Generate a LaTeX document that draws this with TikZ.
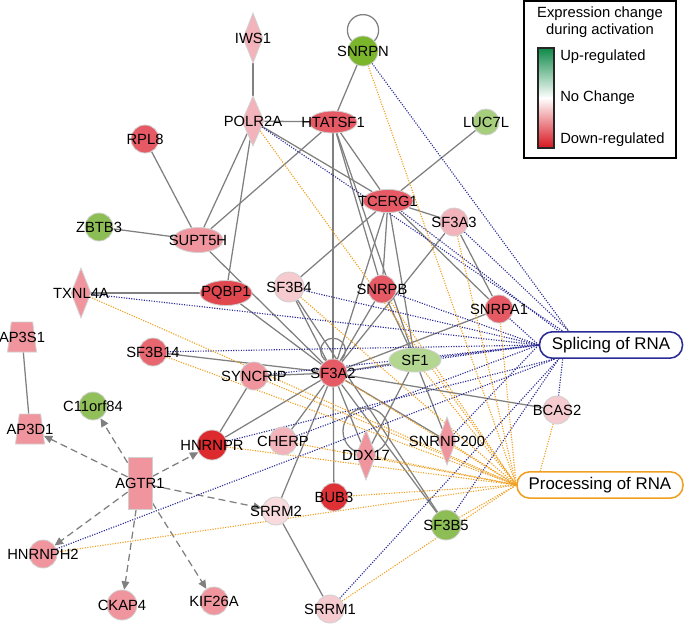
\documentclass[tikz,border=0pt]{standalone}
\usepackage{fontspec}
\setmainfont{Liberation Sans}
\usepackage{xcolor}
\usetikzlibrary{arrows.meta,shapes.geometric}
\pgfdeclarelayer{bg}
\pgfsetlayers{bg,main}

\definecolor{edgegray}{HTML}{808080}
\definecolor{splblue}{HTML}{2A2A96}
\definecolor{procorange}{HTML}{F0A020}
\definecolor{downA}{HTML}{DC2A2E}
\definecolor{downB}{HTML}{E55A64}
\definecolor{downC}{HTML}{F0959D}
\definecolor{downD}{HTML}{F2B3BA}
\definecolor{downE}{HTML}{F6CBCF}
\definecolor{upA}{HTML}{7AB52B}
\definecolor{upB}{HTML}{8DBD55}
\definecolor{upC}{HTML}{A6CE7C}
\definecolor{upD}{HTML}{B3D690}
\definecolor{legup}{HTML}{0E8A48}
\definecolor{legdown}{HTML}{D8141E}

\begin{document}
\begin{tikzpicture}[
  x=0.025cm,y=-0.025cm,
  every label/.style={font=\fontsize{10.5}{12}\selectfont,inner sep=0pt,text=black},
  gene/.style={draw=black!18,line width=0.6pt,inner sep=0pt,label={center:#1}},
  circ/.style={circle,gene=#1,minimum size=0.7cm},
  ell/.style={ellipse,gene=#1,minimum width=1.25cm,minimum height=0.6cm},
  dia/.style={diamond,gene=#1,minimum width=0.5cm,minimum height=1.25cm},
  trap/.style={trapezium,gene=#1,inner sep=1pt,trapezium angle=80,trapezium stretches=true,minimum width=0.725cm,minimum height=0.75cm},
  rbox/.style={rectangle,gene=#1,minimum width=0.6cm,minimum height=1.3cm},
  fnbox/.style={rectangle,rounded corners=0.32cm,draw=#1,line width=1.1pt,fill=white,font=\fontsize{12}{14}\selectfont,minimum height=0.66cm,inner sep=3pt},
  legtext/.style={font=\fontsize{10.5}{12.5}\selectfont,inner sep=0pt},
  rel/.style={edgegray,line width=0.9pt},
  act/.style={edgegray,line width=0.9pt,dash pattern=on 5pt off 3pt,-{Triangle[length=6pt,width=5.5pt]}},
  spldot/.style={splblue,line width=0.8pt,dash pattern=on 0.8pt off 1pt},
  procdot/.style={procorange,line width=0.8pt,dash pattern=on 0.8pt off 1pt}
]
\useasboundingbox (0,0) rectangle (685,626);

% genes
\node[dia=IWS1,fill=downD] (iws1) at (253,38) {};
\node[dia=POLR2A,fill=downD,minimum width=0.55cm] (polr) at (253,121) {};
\node[ell=HTATSF1,fill=downB,minimum width=1.2cm,minimum height=0.55cm] (htat) at (333,122) {};
\node[circ=SNRPN,fill=upA,minimum size=0.75cm] (snrpn) at (363,51) {};
\node[circ=RPL8,fill=downB] (rpl8) at (145,139) {};
\node[circ=LUC7L,fill=upC,minimum size=0.65cm] (luc7l) at (486,122) {};
\node[ell=TCERG1,fill=downB,minimum height=0.575cm] (tcerg) at (388,201) {};
\node[circ=SF3A3,fill=downD] (sf3a3) at (454,222) {};
\node[ell=SUPT5H,fill=downC,minimum height=0.625cm] (supt) at (198,240) {};
\node[circ=ZBTB3,fill=upB] (zbtb) at (99,227) {};
\node[dia=TXNL4A,fill=downC] (txnl) at (81,293) {};
\node[ell=PQBP1,fill=downB!60!downA,minimum width=1.3cm,minimum height=0.625cm] (pqbp) at (226,293) {};
\node[circ=SF3B4,fill=downE,minimum size=0.75cm] (sf3b4) at (289,287) {};
\node[circ=SNRPB,fill=downB] (snrpb) at (382,289) {};
\node[circ=SNRPA1,fill=downB] (snrpa) at (499,309) {};
\node[circ=SF3B14,fill=downB!80!downC] (sf3b14) at (153,352) {};
\node[trap=AP3S1,fill=downC] (ap3s) at (22,337) {\phantom{X}};
\node[trap=AP3D1,fill=downC] (ap3d) at (30,429) {\phantom{X}};
\node[circ=C11orf84,fill=upB!85!upC] (c11) at (93,406) {};
\node[circ=SYNCRIP,fill=downC] (syn) at (254,376) {};
\node[circ=SF3A2,fill=downB] (sf3a2) at (333,373) {};
\node[ell=SF1,fill=upD,minimum width=1.3cm] (sf1) at (415,360) {};
\node[circ=HNRNPR,fill=downA,minimum size=0.75cm] (hnrnpr) at (212,445) {};
\node[circ=CHERP,fill=downD] (cherp) at (283,441) {};
\node[dia=DDX17,fill=downC] (ddx) at (366,455) {};
\node[dia=SNRNP200,fill=downC,minimum width=0.45cm,minimum height=1.2cm] (snrnp) at (447,441) {};
\node[circ=BCAS2,fill=downE] (bcas) at (557,410) {};
\node[rbox=AGTR1,fill=downC] (agtr) at (140,483) {};
\node[circ=SRRM2,fill=downE!70!white] (srrm2) at (276,511) {};
\node[circ=BUB3,fill=downA!85!downB] (bub3) at (334,497) {};
\node[circ=HNRNPH2,fill=downC] (hnrnph) at (43,554) {};
\node[circ=CKAP4,fill=downC,minimum size=0.75cm] (ckap) at (122,605) {};
\node[circ=KIF26A,fill=downC] (kif) at (214,601) {};
\node[circ=SRRM1,fill=downE] (srrm1) at (330,609) {};
\node[circ=SF3B5,fill=upB,minimum size=0.75cm] (sf3b5) at (446,525) {};

% functions
\node[fnbox=splblue,minimum width=3.575cm] (spl) at (611,345) {Splicing of RNA};
\node[fnbox=procorange,minimum width=4.15cm] (proc) at (600,485) {Processing of RNA};

% legend
\node[draw,line width=0.9pt,minimum width=3.8cm,minimum height=3.925cm] (legend) at (600,79.5) {};
\node[legtext,align=center] (legtitle) at (600,22) {Expression change\\during activation};
\node[draw=black!85,line width=0.8pt,minimum width=0.4cm,minimum height=2.5cm,top color=legup,bottom color=legdown,middle color=white] (bar) at (546,98) {};
\node[legtext,anchor=west] (legup) at (560,57) {Up-regulated};
\node[legtext,anchor=west] (legno) at (560,98) {No Change};
\node[legtext,anchor=west] (legdn) at (560,140) {Down-regulated};

\begin{pgfonlayer}{bg}
% relations
\draw[rel] (iws1) -- (polr);
\draw[rel] (polr) -- (htat);
\draw[rel] (snrpn) -- (htat);
\draw[rel] ([yshift=0.52cm]snrpn.center) circle (0.39cm);
\draw[rel] (rpl8) -- (supt);
\draw[rel] (polr) -- (supt);
\draw[rel] (htat) -- (supt);
\draw[rel] (polr) -- (pqbp);
\draw[rel] (polr) -- (tcerg);
\draw[rel] (htat) -- (sf3a2);
\draw[rel] (htat) -- (tcerg);
\draw[rel] (htat) -- (snrpb);
\draw[rel] (htat) -- (sf1);
\draw[rel] (luc7l) -- (tcerg);
\draw[rel] (tcerg) -- (sf3a3);
\draw[rel] (tcerg) -- (snrpa);
\draw[rel] (tcerg) -- (sf3b4);
\draw[rel] (tcerg) -- (snrpb);
\draw[rel] (tcerg) -- (sf3a2);
\draw[rel] (tcerg) -- (sf1);
\draw[rel] (zbtb) -- (supt);
\draw[rel] (supt) -- (sf3a2);
\draw[rel] (txnl) -- (pqbp);
\draw[rel] (pqbp) -- (sf3a2);
\draw[rel] (sf3b4) -- (sf3a2);
\draw[rel] (sf3b4) -- (sf3b5);
\draw[rel] (snrpb) -- (sf3a2);
\draw[rel] (snrpb) -- (sf1);
\draw[rel] (sf3a3) -- (sf3a2);
\draw[rel] (sf3a3) -- (snrpa);
\draw[rel] (snrpa) -- (sf3a2);
\draw[rel] (sf3b14) -- (sf3a2);
\draw[rel] (syn) -- (sf3a2);
\draw[rel] (syn) -- (hnrnpr);
\draw[rel] ([yshift=0.56cm]sf3a2.center) circle (0.31cm);
\draw[rel] (sf3a2) -- (sf1);
\draw[rel] (sf3a2) -- (bcas);
\draw[rel] (sf3a2) -- (hnrnpr);
\draw[rel] (sf3a2) -- (cherp);
\draw[rel] (sf3a2) -- (srrm2);
\draw[rel] (sf3a2) -- (bub3);
\draw[rel] (sf3a2) -- (ddx);
\draw[rel] (sf3a2) -- (snrnp);
\draw[rel] (sf3a2) -- (sf3b5);
\draw[rel] (sf1) -- (ddx);
\draw[rel] (sf1) -- (snrnp);
\draw[rel] ([yshift=0.6cm]ddx.center) circle (0.575cm);
\draw[rel] (srrm2) -- (srrm1);
\draw[rel] (ap3s) -- (ap3d);

% AGTR1 activation
\draw[act] (agtr) -- (ap3d);
\draw[act] (agtr) -- (c11);
\draw[act] (agtr) -- (hnrnpr);
\draw[act] (agtr) -- (srrm2);
\draw[act] (agtr) -- (hnrnph);
\draw[act] (agtr) -- (ckap);
\draw[act] (agtr) -- (kif);

% splicing of RNA
\draw[spldot] (snrpn) -- ([xshift=0.75cm]spl.north west);
\draw[spldot] (sf3a3) -- ([xshift=0.75cm]spl.north west);
\draw[spldot] (polr) -- ([xshift=0.6cm]spl.north west);
\draw[spldot] (tcerg) -- ([xshift=0.5cm]spl.north west);
\draw[spldot] (snrpa) -- (spl.west);
\draw[spldot] (snrpb) -- (spl.west);
\draw[spldot] (sf3b4) -- (spl.west);
\draw[spldot] (txnl) -- (spl.west);
\draw[spldot] (sf3b14) -- (spl.west);
\draw[spldot] (sf3a2) -- (spl.west);
\draw[spldot] (sf1) -- (spl.west);
\draw[spldot] (syn) -- (spl.west);
\draw[spldot] (cherp) -- (spl.west);
\draw[spldot] (snrnp) -- (spl.west);
\draw[spldot] (hnrnpr) -- ([xshift=0.4cm]spl.south west);
\draw[spldot] (hnrnph) -- ([xshift=0.4cm]spl.south west);
\draw[spldot] (srrm1) -- ([xshift=0.5cm]spl.south west);
\draw[spldot] (sf3b5) -- ([xshift=0.5cm]spl.south west);
\draw[spldot] (bcas) -- ([xshift=0.6cm]spl.south west);

% processing of RNA
\draw[procdot] (snrpn) -- (proc.west);
\draw[procdot] (polr) -- (proc.west);
\draw[procdot] (sf3a3) -- (proc.west);
\draw[procdot] (snrpa) -- (proc.west);
\draw[procdot] (snrpb) -- (proc.west);
\draw[procdot] (sf3b4) -- (proc.west);
\draw[procdot] (txnl) -- (proc.west);
\draw[procdot] (sf3b14) -- (proc.west);
\draw[procdot] (syn) -- (proc.west);
\draw[procdot] (sf3a2) -- (proc.west);
\draw[procdot] (sf1) -- (proc.west);
\draw[procdot] (hnrnpr) -- (proc.west);
\draw[procdot] (cherp) -- (proc.west);
\draw[procdot] (ddx) -- (proc.west);
\draw[procdot] (snrnp) -- (proc.west);
\draw[procdot] (bub3) -- (proc.west);
\draw[procdot] (hnrnph) -- (proc.west);
\draw[procdot] (sf3b5) -- (proc.west);
\draw[procdot] (srrm1) -- (proc.west);
\draw[procdot] (bcas) -- ([xshift=0.6cm]proc.north west);
\end{pgfonlayer}
\end{tikzpicture}
\end{document}
